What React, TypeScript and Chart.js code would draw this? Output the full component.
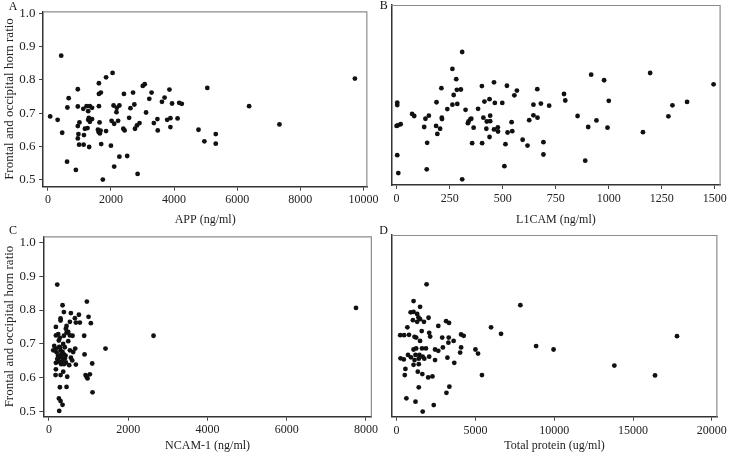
import React, { useEffect, useRef } from "react";
import { Chart, registerables } from "chart.js";

Chart.register(...registerables);

const FONT = '"Liberation Serif", "Times New Roman", serif';

// ---------- data ----------
const ratioTicks = [0.5, 0.6, 0.7, 0.8, 0.9, 1.0];
const appTicks = [0, 2000, 4000, 6000, 8000, 10000];
const l1camTicks = [0, 250, 500, 750, 1000, 1250, 1500];
const ncamTicks = [0, 2000, 4000, 6000, 8000];
const tpTicks = [0, 5000, 10000, 15000, 20000];

const appX = [72, 309, 422, 453, 608, 618, 659, 886, 948, 948, 948, 968, 948, 989, 999, 1133, 1122, 1143, 1174, 1225, 1256, 1277, 1298, 1277, 1308, 1329, 1400, 1400, 1329, 1586, 1607, 1617, 1617, 1617, 1638, 1648, 1679, 1669, 1689, 1741, 1844, 1844, 1998, 2019, 2050, 2081, 2101, 2101, 2173, 2184, 2225, 2266, 2266, 2410, 2390, 2431, 2513, 2575, 2616, 2699, 2740, 2760, 2822, 2843, 2904, 3007, 3069, 3111, 3214, 3286, 3358, 3471, 3481, 3615, 3698, 3780, 3852, 3883, 3883, 3935, 4110, 4161, 4244, 4773, 5052, 4959, 5320, 5320, 6377, 7339, 9730];
const appY = [0.690, 0.680, 0.873, 0.641, 0.554, 0.717, 0.745, 0.529, 0.772, 0.720, 0.661, 0.637, 0.624, 0.605, 0.672, 0.605, 0.713, 0.634, 0.653, 0.721, 0.655, 0.706, 0.686, 0.680, 0.598, 0.721, 0.716, 0.682, 0.674, 0.650, 0.643, 0.790, 0.758, 0.721, 0.672, 0.639, 0.762, 0.647, 0.607, 0.500, 0.808, 0.646, 0.602, 0.677, 0.821, 0.723, 0.668, 0.539, 0.703, 0.716, 0.677, 0.723, 0.569, 0.758, 0.653, 0.648, 0.571, 0.686, 0.715, 0.762, 0.726, 0.653, 0.663, 0.517, 0.670, 0.782, 0.787, 0.702, 0.743, 0.762, 0.670, 0.682, 0.648, 0.734, 0.747, 0.680, 0.771, 0.685, 0.658, 0.729, 0.684, 0.731, 0.728, 0.650, 0.776, 0.615, 0.637, 0.608, 0.721, 0.666, 0.804];

const l1camX = [3, 3, 0, 6, 19, 3, 8, 73, 83, 130, 136, 144, 142, 152, 188, 186, 192, 205, 211, 213, 214, 239, 263, 263, 269, 281, 284, 286, 303, 309, 309, 325, 336, 339, 348, 352, 356, 363, 384, 402, 403, 409, 414, 423, 425, 438, 441, 441, 438, 459, 463, 459, 477, 478, 498, 508, 513, 520, 523, 542, 545, 555, 567, 594, 617, 625, 645, 645, 663, 664, 680, 692, 692, 719, 789, 795, 853, 889, 903, 917, 942, 978, 994, 1000, 1161, 1195, 1281, 1300, 1369, 1494];
const l1camY = [0.723, 0.716, 0.655, 0.657, 0.660, 0.570, 0.518, 0.690, 0.684, 0.652, 0.676, 0.606, 0.529, 0.685, 0.724, 0.655, 0.632, 0.647, 0.765, 0.679, 0.675, 0.704, 0.821, 0.717, 0.745, 0.791, 0.760, 0.719, 0.761, 0.870, 0.500, 0.702, 0.663, 0.668, 0.675, 0.676, 0.605, 0.650, 0.705, 0.771, 0.605, 0.679, 0.726, 0.647, 0.668, 0.733, 0.669, 0.685, 0.623, 0.782, 0.722, 0.645, 0.651, 0.639, 0.722, 0.538, 0.602, 0.772, 0.636, 0.666, 0.640, 0.744, 0.758, 0.615, 0.598, 0.672, 0.717, 0.686, 0.762, 0.679, 0.720, 0.608, 0.572, 0.714, 0.748, 0.729, 0.684, 0.554, 0.652, 0.804, 0.671, 0.788, 0.650, 0.728, 0.637, 0.809, 0.683, 0.715, 0.725, 0.776];

const ncamX = [210, 344, 378, 294, 294, 176, 445, 428, 487, 554, 529, 655, 756, 680, 781, 958, 1000, 1058, 890, 176, 235, 277, 378, 445, 529, 596, 487, 134, 109, 176, 193, 260, 294, 344, 378, 302, 403, 235, 176, 260, 344, 428, 529, 554, 512, 613, 663, 588, 680, 899, 1092, 1428, 176, 168, 294, 361, 462, 924, 974, 1033, 949, 277, 445, 1100, 252, 294, 344, 260, 2640, 7750, 230, 320, 360, 400, 250, 310, 420, 280, 210, 350, 380];
const ncamY = [0.875, 0.814, 0.794, 0.775, 0.769, 0.750, 0.753, 0.745, 0.735, 0.791, 0.765, 0.776, 0.786, 0.763, 0.763, 0.825, 0.780, 0.761, 0.724, 0.725, 0.729, 0.718, 0.724, 0.733, 0.725, 0.724, 0.708, 0.694, 0.681, 0.686, 0.675, 0.691, 0.681, 0.676, 0.669, 0.661, 0.657, 0.657, 0.644, 0.647, 0.647, 0.645, 0.681, 0.659, 0.637, 0.676, 0.686, 0.651, 0.639, 0.669, 0.642, 0.686, 0.625, 0.608, 0.608, 0.618, 0.603, 0.608, 0.598, 0.610, 0.603, 0.572, 0.573, 0.557, 0.539, 0.531, 0.520, 0.502, 0.724, 0.806, 0.665, 0.672, 0.700, 0.690, 0.710, 0.640, 0.665, 0.690, 0.655, 0.655, 0.640];

const tpX = [1901, 1074, 1488, 888, 1074, 1302, 1384, 1488, 1033, 1302, 1735, 2025, 682, 1591, 2066, 2128, 2644, 3140, 3326, 227, 475, 785, 1136, 1240, 1488, 2892, 3306, 4091, 4256, 3616, 3285, 5991, 1074, 1240, 1612, 1860, 2438, 2644, 2934, 4091, 4029, 5000, 5165, 248, 455, 723, 909, 1198, 1446, 1653, 1136, 1405, 1756, 2066, 2438, 3223, 3657, 1074, 1405, 558, 517, 1343, 1632, 2004, 2273, 5413, 1405, 3347, 3161, 620, 1198, 2355, 1653, 6625, 7850, 8850, 9956, 13813, 16394, 17788];
const tpY = [0.873, 0.824, 0.807, 0.791, 0.792, 0.786, 0.776, 0.771, 0.768, 0.763, 0.763, 0.775, 0.747, 0.736, 0.731, 0.720, 0.751, 0.765, 0.760, 0.724, 0.724, 0.725, 0.719, 0.717, 0.707, 0.717, 0.717, 0.726, 0.722, 0.707, 0.702, 0.747, 0.682, 0.685, 0.685, 0.685, 0.682, 0.678, 0.688, 0.688, 0.673, 0.682, 0.670, 0.656, 0.653, 0.666, 0.659, 0.666, 0.666, 0.661, 0.651, 0.655, 0.655, 0.661, 0.651, 0.658, 0.643, 0.637, 0.639, 0.625, 0.607, 0.617, 0.610, 0.600, 0.603, 0.607, 0.571, 0.573, 0.555, 0.539, 0.529, 0.519, 0.500, 0.728, 0.812, 0.692, 0.682, 0.635, 0.606, 0.721];

// ---------- panels ----------
type Spec = {
  letter: string; lx: number; ly: number;
  left: number; top: number; w: number; h: number;
  padTop: number; padRight: number;
  yWidth: number; xHeight: number;
  xMin: number; xMax: number; yMin: number; yMax: number;
  xs: number[]; ys: number[]; xTicks: number[];
  xTitle: string; xTickPad: number; xTitlePad: number;
  showY: boolean;
};

const specs: Spec[] = [
  { letter: "A", lx: 13, ly: 7, left: 0, top: 0, w: 380, h: 232, padTop: 5, padRight: 6, yWidth: 43, xHeight: 45.3,
    xMin: -155, xMax: 10124, yMin: 0.4785, yMax: 1.0067, xs: appX, ys: appY, xTicks: appTicks,
    xTitle: "APP (ng/ml)", xTickPad: 1.5, xTitlePad: 4.8, showY: true },
  { letter: "B", lx: 3.7, ly: 6, left: 380, top: 0, w: 350, h: 232, padTop: 5, padRight: 7.7, yWidth: 11.3, xHeight: 47,
    xMin: -25, xMax: 1527, yMin: 0.4834, yMax: 1.0067, xs: l1camX, ys: l1camY, xTicks: l1camTicks,
    xTitle: "L1CAM (ng/ml)", xTickPad: 3, xTitlePad: 4.8, showY: false },
  { letter: "C", lx: 13, ly: 5.5, left: 0, top: 225, w: 380, h: 234, padTop: 10, padRight: 5.7, yWidth: 43.3, xHeight: 42.3,
    xMin: -142, xMax: 8150, yMin: 0.485, yMax: 1.0176, xs: ncamX, ys: ncamY, xTicks: ncamTicks,
    xTitle: "NCAM-1 (ng/ml)", xTickPad: 2, xTitlePad: 5.8, showY: true },
  { letter: "D", lx: 3.7, ly: 5.5, left: 380, top: 225, w: 350, h: 234, padTop: 10, padRight: 7.7, yWidth: 11.7, xHeight: 42.3,
    xMin: -312, xMax: 20350, yMin: 0.485, yMax: 1.0176, xs: tpX, ys: tpY, xTicks: tpTicks,
    xTitle: "Total protein (ug/ml)", xTickPad: 3, xTitlePad: 5.8, showY: false },
];

const decorPlugin = {
  id: "decor",
  beforeDatasetsDraw(chart: any, _args: any, opts: any) {
    const { ctx, chartArea } = chart;
    const { left, top, right, bottom } = chartArea;
    ctx.save();
    ctx.strokeStyle = "#8c8c8c";
    ctx.lineWidth = 1.2;
    ctx.beginPath();
    ctx.moveTo(left, top + 0.5);
    ctx.lineTo(right - 0.5, top + 0.5);
    ctx.lineTo(right - 0.5, bottom);
    ctx.stroke();
    ctx.fillStyle = "#111";
    ctx.font = `12px ${FONT}`;
    ctx.textAlign = "center";
    ctx.textBaseline = "middle";
    ctx.fillText(opts.letter, opts.lx, opts.ly);
    ctx.restore();
  },
};

function Panel({ s }: { s: Spec }) {
  const ref = useRef<HTMLCanvasElement>(null);
  useEffect(() => {
    const chart = new Chart(ref.current as HTMLCanvasElement, {
      type: "scatter",
      data: {
        datasets: [
          {
            data: s.xs.map((x, i) => ({ x, y: s.ys[i] })),
            pointRadius: 2.4,
            pointBackgroundColor: "#111",
            pointBorderWidth: 0,
            showLine: false,
          },
        ],
      },
      options: {
        responsive: false,
        animation: false,
        devicePixelRatio: 1,
        layout: { padding: { top: s.padTop, right: s.padRight, left: 0, bottom: 0 } },
        plugins: {
          legend: { display: false },
          tooltip: { enabled: false },
          decor: { letter: s.letter, lx: s.lx, ly: s.ly },
        } as any,
        scales: {
          x: {
            type: "linear",
            position: "bottom",
            min: s.xMin,
            max: s.xMax,
            afterBuildTicks: (sc: any) => {
              sc.ticks = s.xTicks.map((v) => ({ value: v }));
            },
            afterFit: (sc: any) => {
              sc.height = s.xHeight;
            },
            grid: { drawOnChartArea: false, drawTicks: true, tickLength: 4, color: "#444", lineWidth: 1 },
            border: { display: true, color: "#333", width: 1.5 },
            ticks: {
              font: { family: FONT, size: 12 },
              color: "#222",
              padding: s.xTickPad,
              maxRotation: 0,
              autoSkip: false,
              callback: (v: any) => String(v),
            },
            title: {
              display: true,
              text: s.xTitle,
              font: { family: FONT, size: 12 },
              color: "#222",
              padding: { top: 0, bottom: s.xTitlePad },
            },
          },
          y: {
            type: "linear",
            position: "left",
            min: s.yMin,
            max: s.yMax,
            afterBuildTicks: (sc: any) => {
              sc.ticks = ratioTicks.map((v) => ({ value: v }));
            },
            afterFit: (sc: any) => {
              sc.width = s.yWidth;
            },
            grid: { drawOnChartArea: false, drawTicks: s.showY, tickLength: 4, color: "#444", lineWidth: 1 },
            border: { display: true, color: "#333", width: 1.5 },
            ticks: {
              display: s.showY,
              font: { family: FONT, size: 13 },
              color: "#222",
              padding: 3.5,
              callback: (v: any) => Number(v).toFixed(1),
            },
            title: {
              display: s.showY,
              text: "Frontal and occipital horn ratio",
              font: { family: FONT, size: 13 },
              color: "#222",
              padding: { top: 2, bottom: 0 },
            },
          },
        },
      } as any,
      plugins: [decorPlugin],
    });
    return () => chart.destroy();
  }, [s]);
  return (
    <canvas
      ref={ref}
      width={s.w}
      height={s.h}
      style={{ position: "absolute", left: s.left, top: s.top, width: s.w, height: s.h }}
    />
  );
}

export default function App() {
  return (
    <div style={{ position: "fixed", left: 0, top: 0, width: 730, height: 459, background: "#fff", overflow: "hidden" }}>
      {specs.map((s) => (
        <Panel key={s.letter} s={s} />
      ))}
    </div>
  );
}
